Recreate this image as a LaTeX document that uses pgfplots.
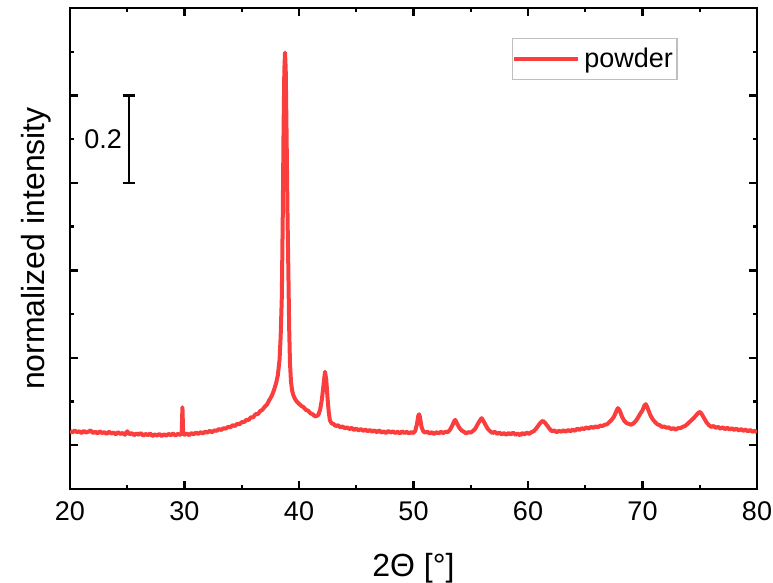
\documentclass[border=0pt]{standalone}
\usepackage{fontspec}
\setmainfont{Liberation Sans}
\usepackage{pgfplots}
\pgfplotsset{compat=1.18}
\definecolor{xrdred}{RGB}{250,62,62}

\pgfplotstableread{
x y
20.0 0.033
20.2 0.029
20.4 0.034
20.6 0.030
20.8 0.032
21.0 0.028
21.2 0.033
21.4 0.029
21.6 0.031
21.8 0.034
22.0 0.028
22.2 0.031
22.4 0.027
22.6 0.032
22.8 0.028
23.0 0.030
23.2 0.026
23.4 0.031
23.6 0.027
23.8 0.029
24.0 0.025
24.2 0.030
24.4 0.026
24.6 0.028
24.8 0.024
25.0 0.032
25.2 0.025
25.4 0.028
25.6 0.023
25.8 0.027
26.0 0.024
26.2 0.028
26.4 0.022
26.6 0.026
26.8 0.023
27.0 0.027
27.2 0.021
27.4 0.025
27.6 0.022
27.8 0.026
28.0 0.021
28.2 0.025
28.4 0.022
28.6 0.026
28.8 0.023
29.0 0.027
29.2 0.022
29.4 0.026
29.6 0.024
29.75 0.026
29.82 0.087
29.88 0.030
30.0 0.024
30.2 0.027
30.4 0.023
30.6 0.028
30.8 0.025
31.0 0.029
31.2 0.026
31.4 0.030
31.6 0.027
31.8 0.031
32.0 0.029
32.2 0.033
32.4 0.030
32.6 0.034
32.8 0.033
33.0 0.037
33.2 0.035
33.4 0.039
33.6 0.038
33.8 0.042
34.0 0.041
34.2 0.046
34.4 0.044
34.6 0.049
34.8 0.048
35.0 0.053
35.2 0.053
35.4 0.058
35.6 0.058
35.8 0.064
36.0 0.064
36.2 0.071
36.4 0.071
36.6 0.078
36.8 0.081
37.0 0.088
37.2 0.093
37.4 0.103
37.6 0.112
37.8 0.125
38.0 0.142
38.15 0.160
38.3 0.195
38.4 0.250
38.5 0.340
38.58 0.520
38.65 0.720
38.72 0.860
38.78 0.898
38.84 0.860
38.92 0.700
39.0 0.520
39.07 0.400
39.14 0.270
39.21 0.190
39.3 0.145
39.4 0.125
39.5 0.115
39.65 0.106
39.8 0.100
40.0 0.095
40.2 0.090
40.4 0.087
40.6 0.081
40.8 0.079
41.0 0.073
41.2 0.071
41.4 0.066
41.55 0.067
41.7 0.070
41.85 0.082
42.0 0.105
42.15 0.140
42.27 0.168
42.38 0.150
42.5 0.105
42.6 0.075
42.7 0.057
42.85 0.050
43.0 0.049
43.2 0.044
43.4 0.046
43.6 0.041
43.8 0.043
44.0 0.039
44.2 0.041
44.4 0.037
44.6 0.040
44.8 0.035
45.0 0.038
45.2 0.034
45.4 0.037
45.6 0.033
45.8 0.036
46.0 0.032
46.2 0.035
46.4 0.031
46.6 0.034
46.8 0.030
47.0 0.034
47.2 0.029
47.4 0.032
47.6 0.028
47.8 0.033
48.0 0.029
48.2 0.032
48.4 0.028
48.6 0.031
48.8 0.027
49.0 0.032
49.2 0.028
49.4 0.031
49.6 0.027
49.8 0.030
50.0 0.028
50.15 0.033
50.3 0.048
50.42 0.068
50.5 0.071
50.58 0.062
50.7 0.042
50.85 0.032
51.0 0.029
51.2 0.031
51.4 0.027
51.6 0.030
51.8 0.026
52.0 0.030
52.2 0.027
52.4 0.031
52.6 0.028
52.8 0.031
53.0 0.030
53.2 0.036
53.4 0.046
53.55 0.055
53.65 0.058
53.8 0.050
54.0 0.040
54.2 0.034
54.4 0.031
54.6 0.027
54.8 0.030
55.0 0.029
55.2 0.033
55.4 0.038
55.6 0.048
55.8 0.057
55.95 0.062
56.1 0.056
56.3 0.046
56.5 0.037
56.7 0.032
56.9 0.028
57.1 0.031
57.3 0.026
57.5 0.029
57.7 0.025
57.9 0.028
58.1 0.024
58.3 0.028
58.5 0.025
58.7 0.029
58.9 0.024
59.1 0.027
59.3 0.023
59.5 0.028
59.7 0.025
59.9 0.029
60.1 0.026
60.3 0.030
60.5 0.032
60.7 0.038
60.9 0.045
61.1 0.052
61.3 0.056
61.5 0.051
61.7 0.044
61.9 0.037
62.1 0.032
62.3 0.034
62.5 0.030
62.7 0.033
62.9 0.031
63.1 0.034
63.3 0.031
63.5 0.035
63.7 0.032
63.9 0.036
64.1 0.033
64.3 0.038
64.5 0.035
64.7 0.039
64.9 0.037
65.1 0.041
65.3 0.038
65.5 0.042
65.7 0.040
65.9 0.043
66.1 0.041
66.3 0.045
66.5 0.044
66.7 0.047
66.9 0.048
67.1 0.053
67.3 0.058
67.5 0.065
67.7 0.077
67.85 0.085
68.0 0.080
68.2 0.066
68.4 0.056
68.6 0.051
68.8 0.049
69.0 0.047
69.2 0.050
69.4 0.055
69.6 0.063
69.8 0.072
70.0 0.080
70.15 0.090
70.28 0.094
70.4 0.088
70.55 0.078
70.7 0.068
70.9 0.059
71.1 0.053
71.3 0.048
71.5 0.046
71.7 0.042
71.9 0.043
72.1 0.040
72.3 0.041
72.5 0.037
72.7 0.039
72.9 0.036
73.1 0.039
73.3 0.039
73.5 0.042
73.7 0.044
73.9 0.048
74.1 0.053
74.3 0.058
74.5 0.063
74.7 0.069
74.9 0.075
75.05 0.076
75.2 0.070
75.4 0.061
75.6 0.052
75.8 0.046
76.0 0.042
76.2 0.044
76.4 0.040
76.6 0.042
76.8 0.038
77.0 0.041
77.2 0.037
77.4 0.040
77.6 0.036
77.8 0.039
78.0 0.035
78.2 0.038
78.4 0.034
78.6 0.037
78.8 0.033
79.0 0.036
79.2 0.032
79.4 0.035
79.6 0.031
79.8 0.033
80.0 0.030
}\powder

\begin{document}
\begin{tikzpicture}
\begin{axis}[
    name=ax,
    scale only axis,
    width=343.5pt, height=240.5pt,
    xmin=20, xmax=80, ymin=-0.1, ymax=1.0,
    xtick={20,30,40,50,60,70,80},
    minor xtick={25,35,45,55,65,75},
    ytick={0,0.2,0.4,0.6,0.8},
    minor ytick={0.1,0.3,0.5,0.7,0.9},
    yticklabels={},
    axis line style={line width=1.4pt},
    every tick/.style={line width=1.2pt, black},
    major tick length=4pt, minor tick length=2pt,
    tick align=inside,
    tick label style={font=\fontsize{13.5}{16}\selectfont},
    xticklabel style={inner xsep=0pt, yshift=-3pt},
    /pgf/number format/assume math mode=true,
    xlabel={2Θ [°]},
    ylabel={normalized intensity},
    label style={font=\fontsize{16}{19}\selectfont, inner sep=0pt},
    xlabel style={at={(axis description cs:0.5,-0.164)}, anchor=center},
    ylabel style={at={(axis description cs:-0.0495,0.5)}, anchor=center},
    legend style={at={(axis description cs:0.643,0.9376)}, anchor=north west,
        draw=gray!50, line width=0.6pt, inner xsep=0pt, inner ysep=2.5pt,
        font=\fontsize{13.5}{16}\selectfont},
    legend image code/.code={\draw[#1] (0pt,0pt) -- (32pt,0pt);},
]
\addplot[xrdred, line width=2pt, line join=round] table[x=x, y=y] {\powder};
\addlegendentry{powder}

% scale bar
\draw[line width=1.4pt] (axis cs:25.15,0.6) -- (axis cs:25.15,0.8);
\draw[line width=1.4pt] (axis cs:24.65,0.8) -- (axis cs:25.65,0.8);
\draw[line width=1.4pt] (axis cs:24.65,0.6) -- (axis cs:25.65,0.6);
\node[font=\fontsize{13.5}{16}\selectfont] at (axis cs:22.9,0.70) {0.2};
\end{axis}
\path (ax.south west) ++(-35pt,-45.5pt) rectangle ([shift={(8pt,4pt)}]ax.north east);
\end{tikzpicture}
\end{document}
